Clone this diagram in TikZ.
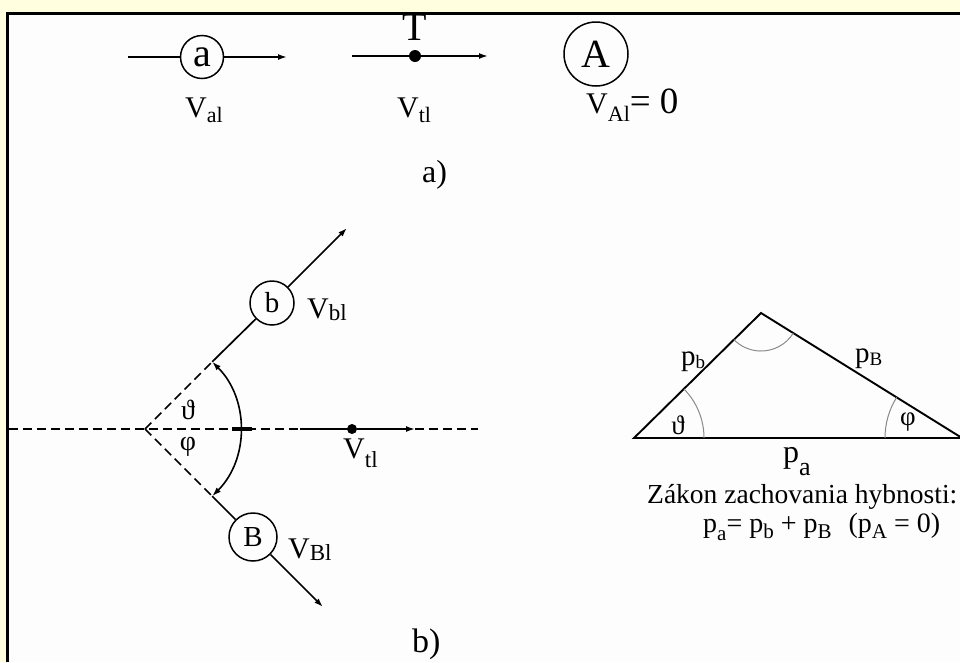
\documentclass[tikz,border=0pt]{standalone}
\usepackage{fontspec}
\setmainfont{Liberation Serif}
\usetikzlibrary{arrows.meta}
\newcommand\sbx[3]{\raisebox{-#1}{\fontsize{#2}{#2}\selectfont #3}}
\definecolor{bgyellow}{HTML}{FFFFE0}
\definecolor{panel}{HTML}{FDFDFD}
\definecolor{arcgray}{HTML}{8A8A8A}
\begin{document}
\begin{tikzpicture}[x=1pt,y=-1pt,
  lbl/.style={inner sep=0pt, anchor=base west},
  ball/.style={draw, circle, line width=1.5pt, inner sep=0pt},
  dotnode/.style={circle, fill=black, inner sep=0pt},
  ln/.style={line width=1.7pt},
  arr/.style={ln, -{Latex[length=9pt,width=6pt]}},
  dsh/.style={line width=1.5pt, dash pattern=on 9pt off 5pt},
  ang/.style={arcgray, line width=1pt},
]
\useasboundingbox (0,0) rectangle (960,662);
\fill[bgyellow] (0,0) rectangle (960,662);
\fill[panel] (7,13) rectangle (960,662);
\draw[line width=3pt] (7,662) -- (7,13) -- (960,13);

% ---------- a) ----------
\node[ball, minimum size=43pt, font=\fontsize{40}{40}\selectfont] (a) at (202,57) {a};
\coordinate (a0) at (128,57);
\coordinate (a1) at (287,57);
\draw[ln] (a0) -- (a);
\draw[arr] (a) -- (a1);
\node[lbl, font=\fontsize{30}{30}\selectfont] (val) at (185,117) {V\sbx{5pt}{22}{al}};

\node[dotnode, minimum size=12pt] (T) at (415,56) {};
\coordinate (t0) at (352,56);
\coordinate (t1) at (488,56);
\draw[ln] (t0) -- (T);
\draw[arr] (T) -- (t1);
\node[inner sep=0pt, anchor=base, font=\fontsize{40}{40}\selectfont] (Tl) at (415,40) {T};
\node[lbl, font=\fontsize{30}{30}\selectfont] (vtl) at (397,117) {V\sbx{5pt}{22}{tl}};

\node[ball, minimum size=64pt, font=\fontsize{40}{40}\selectfont] (A) at (596,54) {A};
\node[lbl, font=\fontsize{30}{30}\selectfont] (vAl) at (586,113) {V\sbx{8pt}{22}{Al}{\fontsize{37}{37}\selectfont= 0}};

\node[lbl, font=\fontsize{32}{32}\selectfont] (la) at (422,182) {a)};

% ---------- b) ----------
\coordinate (O) at (145,429);
\coordinate (h0) at (9,429);
\coordinate (h1) at (478,429);
\draw[dsh] (h0) -- (h1);

\coordinate (up1) at (212.2,361.8);
\coordinate (lo1) at (212.2,496.2);
\node[ball, minimum size=44pt, font=\fontsize{29}{29}\selectfont] (b) at (272,303) {b};
\node[ball, minimum size=48pt, font=\fontsize{29}{29}\selectfont] (B) at (253,537) {B};
\coordinate (bt) at (347,228);
\coordinate (Bt) at (323,607);
\draw[dsh] (O) -- (up1);
\draw[dsh] (O) -- (lo1);
\draw[ln] (up1) -- (b);
\draw[arr] (b) -- (bt);
\draw[ln] (lo1) -- (B);
\draw[arr] (B) -- (Bt);

\draw[line width=1.6pt, {Latex[length=9pt,width=6pt]}-{Latex[length=9pt,width=6pt]}] (up1) arc[start angle=-45, end angle=45, radius=95];
\draw[line width=3.2pt] (232,429) -- (252,429);

\node[dotnode, minimum size=10pt] (D) at (352,429) {};
\coordinate (s0) at (300,429);
\coordinate (s1) at (415,429);
\draw[ln] (s0) -- (D);
\draw[arr] (D) -- (s1);

\node[font=\fontsize{28}{28}\selectfont, inner sep=0pt] (th1) at (188,410) {ϑ};
\node[font=\fontsize{28}{28}\selectfont, inner sep=0pt] (ph1) at (188,447) {φ};

\node[lbl, font=\fontsize{30}{30}\selectfont] (vbl) at (307,318) {V\sbx{2pt}{23}{bl}};
\node[lbl, font=\fontsize{30}{30}\selectfont] (vBl) at (288,558) {V\sbx{2pt}{23}{Bl}};
\node[lbl, font=\fontsize{30}{30}\selectfont] (vtl2) at (343,458) {V\sbx{9pt}{23}{tl}};

\node[lbl, font=\fontsize{34}{34}\selectfont] (lb) at (412,652) {b)};

% ---------- triangle ----------
\coordinate (P) at (634,438);
\coordinate (Q) at (761,313);
\coordinate (R) at (962,438);
\draw[line width=1.9pt, line join=miter] (P) -- (Q) -- (R) -- cycle;
\draw[ang] (704,438) arc[start angle=0, end angle=-44.5, radius=70];
\draw[ang] (793.3,333.1) arc[start angle=31.9, end angle=135.5, radius=38];
\draw[ang] (885,438) arc[start angle=180, end angle=211.9, radius=77];

\node[font=\fontsize{27}{27}\selectfont, inner sep=0pt] (th2) at (678,425) {ϑ};
\node[font=\fontsize{27}{27}\selectfont, inner sep=0pt] (ph2) at (908,422) {φ};

\node[lbl, font=\fontsize{29}{29}\selectfont] (pb) at (681,365) {p\sbx{3pt}{19}{b}};
\node[lbl, font=\fontsize{29}{29}\selectfont] (pB) at (855,362) {p\sbx{3pt}{19}{B}};
\node[lbl, font=\fontsize{32}{32}\selectfont] (pa) at (783,462) {p\sbx{13pt}{26}{a}};

\node[lbl, font=\fontsize{27.5}{27.5}\selectfont] (law) at (647,503) {Zákon zachovania hybnosti:};
\node[lbl, font=\fontsize{28}{28}\selectfont] (eq) at (703,532) {p\sbx{8pt}{21}{a}= p\sbx{6pt}{21}{b} + p\sbx{6pt}{21}{B}\hspace{17pt}(p\sbx{6pt}{21}{A} = 0)};
\end{tikzpicture}
\end{document}
